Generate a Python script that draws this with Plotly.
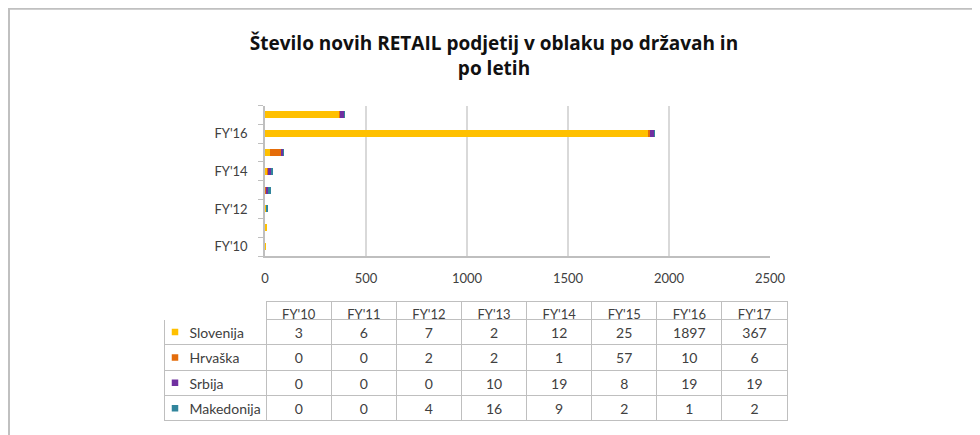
import plotly.graph_objects as go

# ---- data ----
years = ["FY'10", "FY'11", "FY'12", "FY'13", "FY'14", "FY'15", "FY'16", "FY'17"]
ytick_labels = ["FY'10", "", "FY'12", "", "FY'14", "", "FY'16", ""]
countries = ["Slovenija", "Hrvaška", "Srbija", "Makedonija"]
slovenija = [3, 6, 7, 2, 12, 25, 1897, 367]
hrvaska = [0, 0, 2, 2, 1, 57, 10, 6]
srbija = [0, 0, 0, 10, 19, 8, 19, 19]
makedonija = [0, 0, 4, 16, 9, 2, 1, 2]
colors = ["#FFC000", "#E46C0A", "#7030A0", "#31859C"]
xticks = [0, 500, 1000, 1500, 2000, 2500]

series = [slovenija, hrvaska, srbija, makedonija]

W, H = 980, 435
OFF = 8  # page body margin


def fx(px):
    return (px - OFF) / W


def fy(py):
    return 1 - (py - OFF) / H


FONT = "Lato"
GRAY_TXT = "#404040"
LINE = "#BFBFBF"
CLEAR = "rgba(0,0,0,0)"

# table geometry (page pixels)
T_LEFT, T_RIGHT, T_TOP = 164, 787, 301
LEG_W, YEAR_W = 102, 65
HDR_H, ROW_H = 18.3, 25.4
T_BODY_TOP = T_TOP + HDR_H
T_BOTTOM = T_BODY_TOP + ROW_H * len(countries)

fig = go.Figure()
for name, vals, col in zip(countries, series, colors):
    fig.add_trace(go.Bar(
        y=years, x=vals, name=name, orientation="h",
        marker=dict(color=col, line=dict(width=0)),
        showlegend=False,
    ))

# data table below the chart
header_vals = [""] + years
legend_col = ["\u2003\u2002" + n for n in countries]
cell_cols = [legend_col] + [[str(s[i]) for s in series] for i in range(len(years))]
hdr_line = ["white"] + [LINE] * len(years)

fig.add_trace(go.Table(
    domain=dict(x=[fx(T_LEFT), fx(T_RIGHT)], y=[fy(T_BOTTOM + 4), fy(T_TOP)]),
    columnwidth=[LEG_W] + [YEAR_W] * len(years),
    header=dict(values=header_vals, height=HDR_H, fill_color=CLEAR,
                line=dict(color=hdr_line, width=1),
                align="center", font=dict(family=FONT, size=13, color=GRAY_TXT)),
    cells=dict(values=cell_cols, height=ROW_H, fill_color=CLEAR,
               line=dict(color=LINE, width=1),
               align=["left"] + ["center"] * len(years),
               font=dict(family=FONT, size=14, color=GRAY_TXT)),
))

# legend keys inside the table's first column
fig.add_trace(go.Scatter(
    x=[11] * len(countries), y=list(range(len(countries))),
    mode="markers", xaxis="x2", yaxis="y2", showlegend=False, hoverinfo="skip",
    marker=dict(symbol="square", size=6.5, color=colors, line=dict(width=0)),
))

fig.update_layout(
    width=W, height=H,
    margin=dict(l=0, r=0, t=0, b=0, autoexpand=False),
    paper_bgcolor="white", plot_bgcolor="white",
    barmode="stack", bargap=0.63,
    font=dict(family=FONT, size=13, color=GRAY_TXT),
    title=dict(text="Število novih RETAIL podjetij v oblaku po državah in<br>po letih",
               x=fx(494), xanchor="center", y=fy(50), yanchor="top",
               font=dict(family="Open Sans", size=19, color="#111111", weight="bold")),
    xaxis=dict(domain=[fx(265), fx(770)], range=[0, 2500], tickvals=xticks,
               showgrid=True, gridcolor="#D9D9D9", gridwidth=1.5,
               showline=True, linecolor=LINE, linewidth=1.5,
               zeroline=False, ticks="", ticklabelstandoff=10, automargin=False,
               tickfont=dict(family=FONT, size=13, color=GRAY_TXT), fixedrange=True),
    yaxis=dict(domain=[fy(256), fy(105.5)], type="category",
               categoryorder="array", categoryarray=years,
               tickvals=years, ticktext=ytick_labels, tickson="boundaries",
               ticks="outside", ticklen=5, tickcolor=LINE, tickwidth=1,
               showline=True, linecolor=LINE, linewidth=1.5, showgrid=False,
               ticklabelstandoff=13, automargin=False,
               tickfont=dict(family=FONT, size=13, color=GRAY_TXT), fixedrange=True),
    xaxis2=dict(domain=[fx(T_LEFT), fx(T_LEFT + LEG_W)], range=[0, LEG_W],
                visible=False, fixedrange=True, anchor="y2", automargin=False),
    yaxis2=dict(domain=[fy(T_BOTTOM), fy(T_BODY_TOP)], range=[len(countries) - 0.5, -0.5],
                visible=False, fixedrange=True, anchor="x2", automargin=False),
    shapes=[dict(type="rect", xref="paper", yref="paper",
                 x0=1 / W, x1=1.02, y0=-0.05, y1=1 - 0.7 / H,
                 line=dict(color="#C0C0C0", width=2), fillcolor=CLEAR)],
)

fig.write_html("out.html")
